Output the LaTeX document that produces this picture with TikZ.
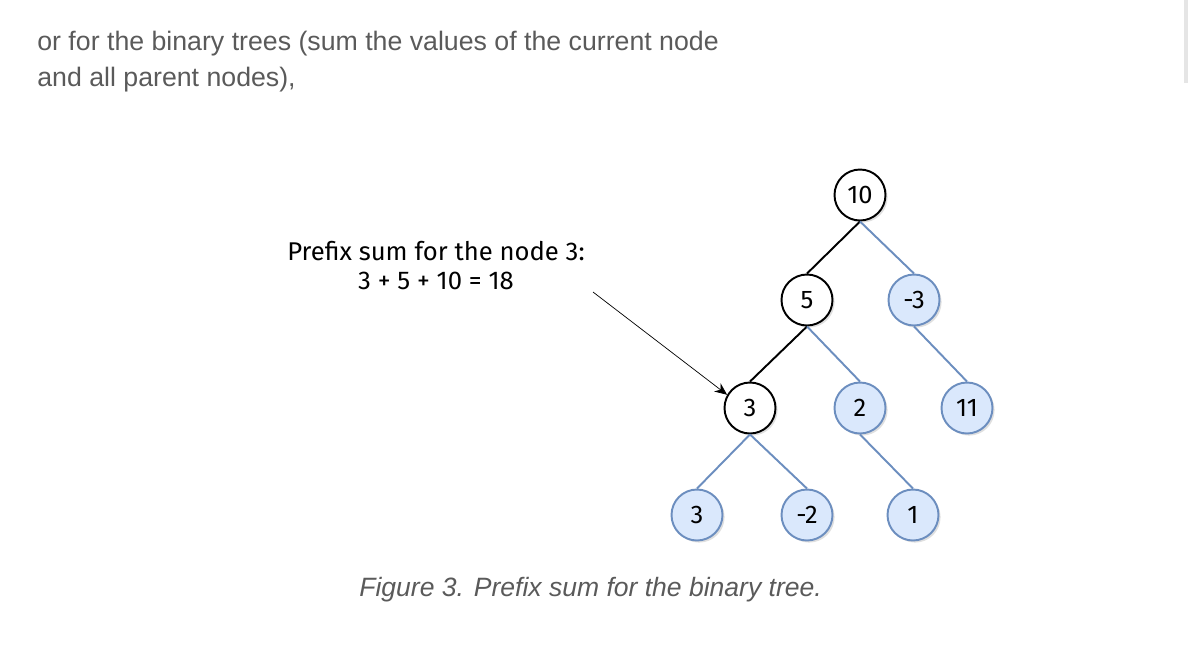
\documentclass[tikz,border=0pt]{standalone}
\usepackage{fontspec}
\setmainfont{Liberation Sans}
\newfontfamily\treefont{Fira Sans}
\usetikzlibrary{shadows,arrows.meta}

\definecolor{nodeblue}{HTML}{DAE8FC}
\definecolor{edgeblue}{HTML}{6C8EBF}
\definecolor{pagegray}{HTML}{5A5A5A}

\begin{document}
\begin{tikzpicture}[x=0.02cm, y=-0.02cm,
							treenode/.style = {circle, minimum size=1.02cm, inner sep=0pt, line width=1.1pt, font=\treefont\fontsize{14.5}{16}\selectfont,
								drop shadow={shadow xshift=1.2pt, shadow yshift=-1.2pt, opacity=0.25}},
							pathnode/.style = {treenode, draw=black, fill=white},
							othernode/.style = {treenode, draw=edgeblue, fill=nodeblue},
							pathedge/.style = {line width=1.1pt, black},
							otheredge/.style = {line width=1.1pt, edgeblue},
							pagetext/.style = {text=pagegray, font=\fontsize{15.2}{18}\selectfont, anchor=west, inner sep=0pt}
						]
						\useasboundingbox (0,0) rectangle (1188,660);
						\fill[gray!20] (1184,0) rectangle (1188,83);
						% text above the figure
						\node[pagetext] (lineone) at (37,44) {or for the binary trees (sum the values of the current node};
						\node[pagetext] (linetwo) at (37,80) {and all parent nodes),};
						% the tree
						\node[pathnode] (ten) at (860,195) {10};
						\node[pathnode] (five) at (807,300) {5};
						\node[othernode] (mthree) at (914,300) {-3};
						\node[pathnode] (three) at (750,408) {3};
						\node[othernode] (two) at (860,408) {2};
						\node[othernode] (eleven) at (967,408) {11};
						\node[othernode] (leafthree) at (697,515) {3};
						\node[othernode] (mtwo) at (807,515) {-2};
						\node[othernode] (one) at (913,515) {1};
						\foreach \a/\b in {ten/five, five/three}{ \draw[pathedge] (\a.south) -- (\b.north);}
						\foreach \a/\b in {ten/mthree, mthree/eleven, five/two, two/one, three/leafthree, three/mtwo}{ \draw[otheredge] (\a.south) -- (\b.north);}
						% label and arrow
						\node[align=center, inner sep=0pt, font=\treefont\fontsize{14.6}{16.5}\selectfont] (prefixlabel) at (436,266) {Prefix sum for the node 3:\\3 + 5 + 10 = 18};
						\coordinate (arrowstart) at (593,292);
						\draw[-{Stealth[length=7pt, width=6pt]}, thin] (arrowstart) -- (three.150);
						% caption
						\node[pagetext, font=\itshape\fontsize{15.1}{18}\selectfont] (caption) at (359,590) {Figure 3. Prefix sum for the binary tree.};
					\end{tikzpicture}
\end{document}
